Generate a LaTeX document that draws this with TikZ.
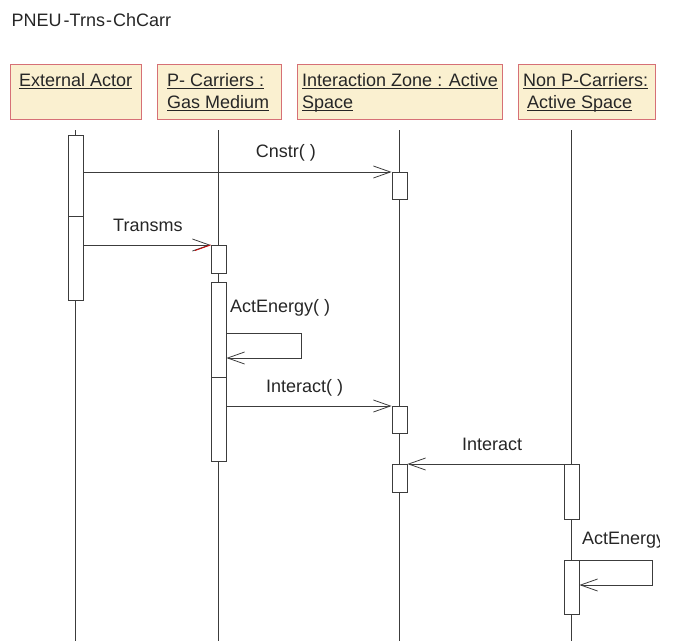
\documentclass[tikz,border=0pt]{standalone}
\usepackage{fontspec}
\setmainfont{Liberation Sans}
\usepackage{tikz}
\usetikzlibrary{arrows.meta,positioning}
\definecolor{objfill}{RGB}{250,240,208}
\definecolor{objedge}{RGB}{214,112,118}
\definecolor{seqline}{RGB}{60,60,60}
\newsavebox{\objulbox}
\newcommand{\objul}[1]{\sbox{\objulbox}{#1}\rlap{\rule[-3.2pt]{\wd\objulbox}{1.1pt}}\usebox{\objulbox}}
\tikzstyle{objbox} = [rectangle, anchor=north west, draw=objedge, fill=objfill, line width=1pt, minimum height=55pt, inner sep=0pt]
\tikzstyle{objtext} = [anchor=north west, align=left, inner sep=0pt, font=\fontsize{18}{22}\selectfont, text=black!85]
\tikzstyle{lifeline} = [draw=seqline, line width=0.8pt]
\tikzstyle{actbox} = [rectangle, anchor=north, draw=seqline, fill=white, line width=0.8pt, minimum width=15pt, inner sep=0pt]
\tikzstyle{msg} = [draw=seqline, line width=0.8pt, -{Straight Barb[length=17pt,width=12pt]}]
\tikzstyle{msglabel} = [anchor=base west, inner sep=0pt, font=\fontsize{18}{22}\selectfont, text=black!85]

\begin{document}
\begin{tikzpicture}[x=1pt, y=-1pt]
\useasboundingbox (0,0) rectangle (675,641);

% Title
\node[msglabel] (title) at (11.5,26.5) {PNEU\kern2pt-Trns\kern1pt-\kern1ptChCarr};

% Objects
\node[objbox, minimum width=131pt] (hdA) at (10,64) {};
\node[objbox, minimum width=124pt] (hdB) at (157,64) {};
\node[objbox, minimum width=205pt] (hdC) at (297,64) {};
\node[objbox, minimum width=137pt] (hdD) at (518,64) {};
\node[objtext, below right=6.6pt and 9pt of hdA.north west] (txA) {\strut\objul{External Actor}};
\node[objtext, below right=6.6pt and 10pt of hdB.north west] (txB) {\strut\objul{P- Carriers :}\\\objul{Gas Medium}};
\node[objtext, below right=6.6pt and 5pt of hdC.north west] (txC) {\strut\objul{Interaction Zone : Active}\\\objul{Space}};
\node[objtext, below right=6.6pt and 5pt of hdD.north west] (txD) {\strut\objul{Non P-Carriers:}\\\hspace*{4pt}\objul{Active Space}};

% Lifelines
\foreach \n/\x in {A/75.5,B/218.5,C/399.5,D/571.5} {
  \coordinate (ll\n top) at (\x,130);
  \coordinate (ll\n bot) at (\x,641);
  \draw[lifeline] (ll\n top) -- (ll\n bot);
}

% Activations
\node[actbox, minimum height=81pt] (actA1) at (75.5,135) {};
\node[actbox, minimum height=84pt] (actA2) at (75.5,216) {};
\node[actbox, minimum height=28pt] (actB1) at (218.5,245) {};
\node[actbox, minimum height=95pt] (actB2) at (218.5,282) {};
\node[actbox, minimum height=84pt] (actB3) at (218.5,377) {};
\node[actbox, minimum height=27pt] (actC1) at (399.5,172) {};
\node[actbox, minimum height=27pt] (actC2) at (399.5,406) {};
\node[actbox, minimum height=28pt] (actC3) at (399.5,464) {};
\node[actbox, minimum height=55pt] (actD1) at (571.5,464) {};
\node[actbox, minimum height=54pt] (actD2) at (571.5,560) {};

% Messages
\draw[msg] (actA1.east |- actC1.north) -- (actC1.north west);
\node[msglabel] (lbCnstr) at (255.7,157.7) {Cnstr( )};

\draw[msg] (actA2.east |- actB1.north) -- (actB1.north west);
\draw[red!80!black, line width=0.8pt] (actB1.north west) -- ++(-15.5,5.5);
\node[msglabel] (lbTransms) at (113,231) {Transms};

\coordinate (loopB) at (301,333);
\coordinate (loopBend) at (301,358);
\draw[msg] (actB2.east |- loopB) -- (loopB) -- (loopBend) -- (actB2.east |- loopBend);
\node[msglabel] (lbActB) at (230,312) {ActEnergy( )};

\draw[msg] (actB3.east |- actC2.north) -- (actC2.north west);
\node[msglabel] (lbInteractB) at (266,392) {Interact( )};

\draw[msg] (actD1.north west) -- (actC3.north east);
\node[msglabel] (lbInteractD) at (462,450) {Interact};

\coordinate (loopD) at (652,560);
\coordinate (loopDend) at (652,585);
\draw[msg] (actD2.north east) -- (loopD) -- (loopDend) -- (actD2.east |- loopDend);
\begin{scope}
\clip (560,515) rectangle (659,555);
\node[msglabel] (lbActD) at (582,544) {ActEnergy( )};
\end{scope}
\end{tikzpicture}
\end{document}
